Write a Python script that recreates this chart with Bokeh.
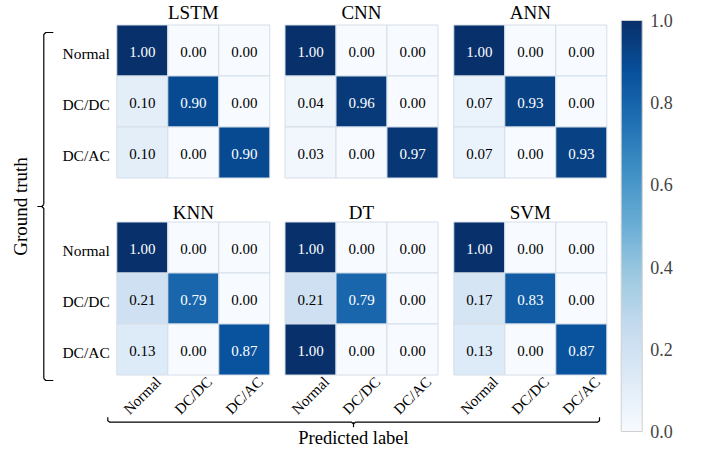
import math
from bokeh.plotting import figure
from bokeh.models import (Range1d, ColumnDataSource, LinearColorMapper, ColorBar,
                          FixedTicker, PrintfTickFormatter)
from bokeh.transform import transform
from bokeh.palettes import Blues256
from bokeh.core.properties import value
from bokeh.embed import file_html
from bokeh.resources import INLINE

# ---------------- data ----------------
classes = ["Normal", "DC/DC", "DC/AC"]
models = ["LSTM", "CNN", "ANN", "KNN", "DT", "SVM"]
lstm = [[1.00, 0.00, 0.00], [0.10, 0.90, 0.00], [0.10, 0.00, 0.90]]
cnn = [[1.00, 0.00, 0.00], [0.04, 0.96, 0.00], [0.03, 0.00, 0.97]]
ann = [[1.00, 0.00, 0.00], [0.07, 0.93, 0.00], [0.07, 0.00, 0.93]]
knn = [[1.00, 0.00, 0.00], [0.21, 0.79, 0.00], [0.13, 0.00, 0.87]]
dt = [[1.00, 0.00, 0.00], [0.21, 0.79, 0.00], [1.00, 0.00, 0.00]]
svm = [[1.00, 0.00, 0.00], [0.17, 0.83, 0.00], [0.13, 0.00, 0.87]]
matrices = [lstm, cnn, ann, knn, dt, svm]
cbar_ticks = [0.0, 0.2, 0.4, 0.6, 0.8, 1.0]
y_axis_label = "Ground truth"
x_axis_label = "Predicted label"

# ---------------- layout (figure pixel coords, y downward) ----------------
W, H = 701, 451
CELL = 51.0
col_x0 = [116.3, 284.5, 453.3]
row_y0 = [24.5, 221.5]
FONT = "Liberation Serif"

p = figure(width=W, height=H, x_range=Range1d(0, W), y_range=Range1d(H, 0),
           output_backend="svg", toolbar_location=None, min_border=0,
           outline_line_color=None)
p.axis.visible = False
p.grid.visible = False
p.background_fill_color = "white"
p.border_fill_color = "white"

mapper = LinearColorMapper(palette=list(Blues256)[::-1], low=0.0, high=1.0)

xs, ys, vals, txt, tcol = [], [], [], [], []
for k, mat in enumerate(matrices):
    px = col_x0[k % 3]
    py = row_y0[k // 3]
    for i in range(3):
        for j in range(3):
            v = mat[i][j]
            xs.append(px + (j + 0.5) * CELL)
            ys.append(py + (i + 0.5) * CELL)
            vals.append(v)
            txt.append(f"{v:.2f}")
            tcol.append("white" if v > 0.5 else "black")

src = ColumnDataSource(dict(x=xs, y=ys, v=vals, t=txt, c=tcol,
                            ty=[y + 1.0 for y in ys]))
p.rect(x="x", y="y", width=CELL, height=CELL, source=src,
       fill_color=transform("v", mapper), line_color="#d5dee8", line_width=1)
p.text(x="x", y="ty", text="t", text_color="c", source=src,
       text_font=value(FONT), text_font_size="15px",
       text_align="center", text_baseline="middle")

# titles
tx, ty, tt = [], [], []
title_mid = [12.0, 211.5]
for k, m in enumerate(models):
    tx.append(col_x0[k % 3] + 1.5 * CELL)
    ty.append(title_mid[k // 3])
    tt.append(m)
p.text(x=tx, y=ty, text=tt, text_font=value(FONT), text_font_size="19px",
       text_align="center", text_baseline="middle", text_color="black")

# row labels (left of first column)
rx, ry, rt = [], [], []
for r in range(2):
    for i, c in enumerate(classes):
        rx.append(col_x0[0] - 7)
        ry.append(row_y0[r] + (i + 0.5) * CELL + 3.0)
        rt.append(c)
p.text(x=rx, y=ry, text=rt, text_font=value(FONT), text_font_size="15.5px",
       text_align="right", text_baseline="middle", text_color="black")

# rotated x tick labels below bottom row
lx, ly, lt = [], [], []
for k in range(3):
    for j, c in enumerate(classes):
        lx.append(col_x0[k] + (j + 0.5) * CELL)
        ly.append(395.0)
        lt.append(c)
p.text(x=lx, y=ly, text=lt, angle=math.pi / 4, text_font=value(FONT),
       text_font_size="15px", text_align="center", text_baseline="middle",
       text_color="black")

# left bracket
bx = 43.3
btop, bbot, bmid = 32.0, 380.0, 206.0
p.line([bx + 9.5, bx + 2, bx, bx], [btop, btop, btop + 2, bmid - 2], line_color="black", line_width=1.2)
p.line([bx, bx - 2, bx - 6.5], [bmid - 2, bmid, bmid], line_color="black", line_width=1.2)
p.line([bx - 2, bx, bx], [bmid, bmid + 2, bbot - 2], line_color="black", line_width=1.2)
p.line([bx, bx + 2, bx + 9.5], [bbot - 2, bbot, bbot], line_color="black", line_width=1.2)

# bottom bracket
hy = 421.7
hl, hr, hm = 107.3, 599.0, 353.0
p.line([hl, hl, hl + 2, hm - 2, hm], [hy - 5, hy - 1.5, hy, hy, hy + 1.5], line_color="black", line_width=1.2)
p.line([hm, hm], [hy, hy + 5], line_color="black", line_width=1.2)
p.line([hm, hm + 2, hr - 2, hr, hr], [hy + 1.5, hy, hy, hy - 1.5, hy - 5], line_color="black", line_width=1.2)

# axis labels
p.text(x=[20], y=[206], text=[y_axis_label], angle=math.pi / 2,
       text_font=value(FONT), text_font_size="19px", text_align="center",
       text_baseline="middle", text_color="black")
p.text(x=[hm], y=[437], text=[x_axis_label], text_font=value(FONT),
       text_font_size="18.5px", text_align="center", text_baseline="middle",
       text_color="black")

# colorbar
cb = ColorBar(color_mapper=mapper, location=(620.7, H - 431),
              width=21, height=411, padding=0, margin=0,
              ticker=FixedTicker(ticks=cbar_ticks),
              formatter=PrintfTickFormatter(format="%.1f"),
              major_label_text_font=FONT, major_label_text_font_size="18px",
              major_tick_line_color=None, minor_tick_line_color=None,
              label_standoff=8, bar_line_color="#d0d0d0",
              border_line_color=None, background_fill_color=None)
p.add_layout(cb, "center")

open("out.html", "w").write(file_html(p, INLINE))
